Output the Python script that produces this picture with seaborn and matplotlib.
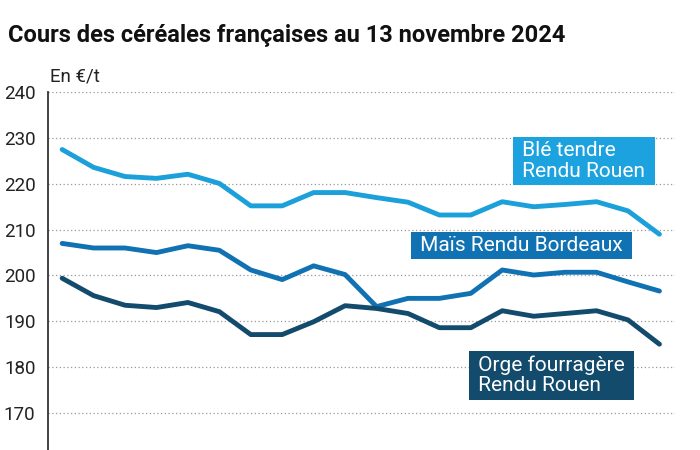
import pandas as pd
import seaborn as sns
import matplotlib.pyplot as plt

# Données (€/t)
dates = list(range(20))
ble = [227.5, 223.6, 221.6, 221.2, 222.1, 220.1, 215.2, 215.2, 218.1, 218.1,
       217.0, 216.0, 213.2, 213.2, 216.1, 215.0, 215.5, 216.1, 214.1, 209.0]
mais = [207.0, 206.0, 206.0, 205.0, 206.5, 205.5, 201.2, 199.1, 202.1, 200.2,
        193.2, 195.0, 195.0, 196.1, 201.2, 200.1, 200.7, 200.7, 198.6, 196.6]
orge = [199.4, 195.6, 193.5, 193.0, 194.1, 192.1, 187.1, 187.1, 189.9, 193.4,
        192.8, 191.7, 188.6, 188.6, 192.3, 191.1, 191.7, 192.3, 190.3, 185.0]
series = ["Blé tendre\nRendu Rouen", "Maïs Rendu Bordeaux", "Orge fourragère\nRendu Rouen"]
couleurs = ["#1ba0da", "#1072b3", "#134b6c"]
yticks = [170, 180, 190, 200, 210, 220, 230, 240]

df = pd.DataFrame({
    "date": dates * 3,
    "prix": ble + mais + orge,
    "serie": [series[0]] * 20 + [series[1]] * 20 + [series[2]] * 20,
})

sns.set_style("white")
plt.rcParams['font.family'] = ['Roboto', 'DejaVu Sans']

fig = plt.figure(figsize=(7, 4.5), dpi=100)
ax = fig.add_axes([0.0686, 0.0, 0.895, 0.795])

sns.lineplot(data=df, x="date", y="prix", hue="serie", palette=couleurs,
             linewidth=3.5, legend=False, ax=ax,
             solid_capstyle="round", solid_joinstyle="round")

ax.set_xlim(-0.45, 19.48)
ax.set_ylim(161.9, 240)
ax.set_yticks(yticks)
ax.set_xticks([])
ax.set_xlabel("")
ax.set_ylabel("")
ax.tick_params(axis='y', labelsize=13.5, colors="#222222", length=0, pad=9)
ax.grid(axis='y', linestyle=(0, (1, 2)), color="#999999", linewidth=0.9)
ax.set_axisbelow(True)
for s in ["top", "right", "bottom"]:
    ax.spines[s].set_visible(False)
ax.spines["left"].set_color("#333333")
ax.spines["left"].set_linewidth(1.3)

# Étiquettes des séries
etiq = dict(ha="left", va="center", fontsize=15, color="white", linespacing=1.1)
ax.text(14.48, 225.0, " " + series[0].replace("\n", " \n ") + " ", **etiq,
        bbox=dict(boxstyle="square,pad=0.2", fc="#1ca3df", ec="none"))
ax.text(11.23, 206.6, " " + series[1] + " ", **etiq,
        bbox=dict(boxstyle="square,pad=0.2", fc="#1072b3", ec="none"))
ax.text(13.08, 178.2, " " + series[2].replace("\n", " \n ") + " ", **etiq,
        bbox=dict(boxstyle="square,pad=0.2", fc="#134b6c", ec="none"))

fig.text(0.011, 0.921, "Cours des céréales françaises au 13 novembre 2024",
         fontsize=17, fontweight="bold", color="#111111", va="center")
fig.text(0.071, 0.83, "En €/t", fontsize=13.5, color="#222222", va="center")

fig.savefig("out.png", dpi=100)
